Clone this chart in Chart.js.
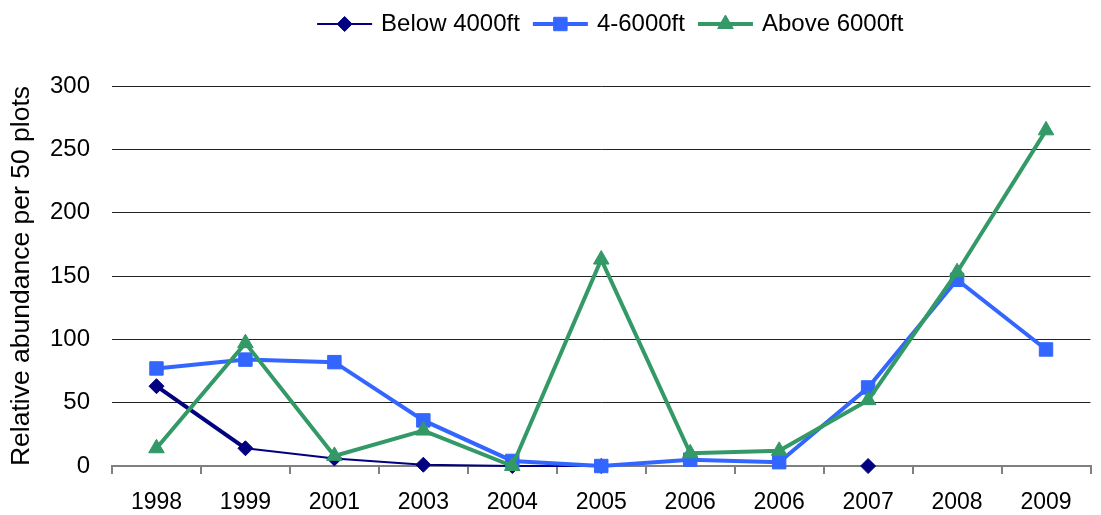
<!DOCTYPE html>
<html>
<head>
<meta charset="utf-8">
<script src="https://cdn.jsdelivr.net/npm/chart.js@4.4.1/dist/chart.umd.min.js"></script>
<style>
  html, body { margin: 0; padding: 0; background: #fff; }
  #wrap { width: 1101px; height: 515px; position: relative; }
</style>
</head>
<body>
<div id="wrap"><canvas id="chart"></canvas></div>
<script>
// values
var years = ['1998', '1999', '2001', '2003', '2004', '2005', '2006', '2006', '2007', '2008', '2009'];
var below4000 = [63, 14, 6, 1, 0, 0, null, null, 0, null, null];
var mid4to6000 = [77, 84, 82, 36, 4, 0, 5, 3, 62, 147, 92];
var above6000 = [14, 97, 8, 28, 0, 163, 10, 12, 52, 153, 265];
var yTitle = 'Relative abundance per 50 plots';

var FONT = '"Liberation Sans", Arial, sans-serif';

// legend drawn by hand: line + marker + label, like the office chart
var lineLegend = {
  id: 'lineLegend',
  afterDraw: function(chart) {
    var ctx = chart.ctx;
    var area = chart.chartArea;
    var lineLen = 55, gapText = 9, gapItem = 13, y = 24;
    ctx.save();
    ctx.font = '24px ' + FONT;
    var items = chart.data.datasets.map(function(ds) {
      return { ds: ds, w: ctx.measureText(ds.label).width };
    });
    var total = 0;
    items.forEach(function(it, i) {
      total += lineLen + gapText + it.w + (i < items.length - 1 ? gapItem : 0);
    });
    var x = (area.left + area.right) / 2 - total / 2 + 9;
    items.forEach(function(it) {
      var ds = it.ds;
      ctx.strokeStyle = ds.borderColor;
      ctx.lineWidth = ds.legendLineWidth;
      ctx.beginPath();
      ctx.moveTo(x, y);
      ctx.lineTo(x + lineLen, y);
      ctx.stroke();
      ctx.fillStyle = ds.backgroundColor;
      ctx.lineWidth = 1;
      Chart.helpers.drawPoint(ctx, {
        pointStyle: ds.pointStyle,
        radius: ds.pointRadius,
        rotation: 0,
        borderWidth: 1
      }, x + lineLen / 2, y);
      ctx.fillStyle = '#000';
      ctx.textBaseline = 'middle';
      ctx.textAlign = 'left';
      ctx.fillText(ds.label, x + lineLen + gapText, y);
      x += lineLen + gapText + it.w + gapItem;
    });
    ctx.restore();
  }
};

new Chart(document.getElementById('chart'), {
  type: 'line',
  data: {
    labels: years,
    datasets: [
      {
        label: 'Below 4000ft',
        data: below4000,
        borderColor: '#000080',
        backgroundColor: '#000080',
        borderWidth: 2,
        legendLineWidth: 2,
        segment: {
          borderWidth: function(c) { return c.p0DataIndex === 0 ? 4 : 2; }
        },
        pointStyle: 'rectRot',
        pointRadius: 7.5,
        pointBorderWidth: 1,
        spanGaps: false,
        tension: 0,
        clip: false,
        order: 3
      },
      {
        label: '4-6000ft',
        data: mid4to6000,
        borderColor: '#3366FF',
        backgroundColor: '#3366FF',
        borderWidth: 4,
        legendLineWidth: 4,
        pointStyle: 'rect',
        pointRadius: 9.5,
        pointBorderWidth: 1,
        tension: 0,
        clip: false,
        order: 2
      },
      {
        label: 'Above 6000ft',
        data: above6000,
        borderColor: '#339966',
        backgroundColor: '#339966',
        borderWidth: 4,
        legendLineWidth: 4,
        pointStyle: 'triangle',
        pointRadius: 9,
        pointBorderWidth: 1,
        tension: 0,
        clip: false,
        order: 1
      }
    ]
  },
  options: {
    responsive: true,
    maintainAspectRatio: false,
    animation: false,
    layout: { padding: { top: 86, right: 0, left: 0, bottom: 0 } },
    plugins: {
      legend: { display: false },
      tooltip: { enabled: false }
    },
    scales: {
      x: {
        offset: true,
        grid: {
          offset: true,
          drawOnChartArea: false,
          color: '#808080',
          lineWidth: 2,
          tickLength: 8
        },
        border: { color: '#808080', width: 2 },
        ticks: {
          color: '#000',
          font: { family: FONT, size: 23 },
          padding: 15,
          maxRotation: 0,
          autoSkip: false
        },
        afterFit: function(s) { s.height = 49; }
      },
      y: {
        min: 0,
        max: 300,
        grid: {
          drawTicks: false,
          color: function(c) { return c.tick && c.tick.value === 0 ? 'rgba(0,0,0,0)' : '#222'; },
          lineWidth: 1
        },
        border: { display: false },
        ticks: {
          stepSize: 50,
          color: '#000',
          font: { family: FONT, size: 24 },
          padding: 22
        },
        title: {
          display: true,
          text: yTitle,
          color: '#000',
          font: { family: FONT, size: 26.5 },
          padding: { top: 6, bottom: 0 }
        },
        afterFit: function(s) { s.width = 112; }
      }
    }
  },
  plugins: [lineLegend]
});
</script>
</body>
</html>
